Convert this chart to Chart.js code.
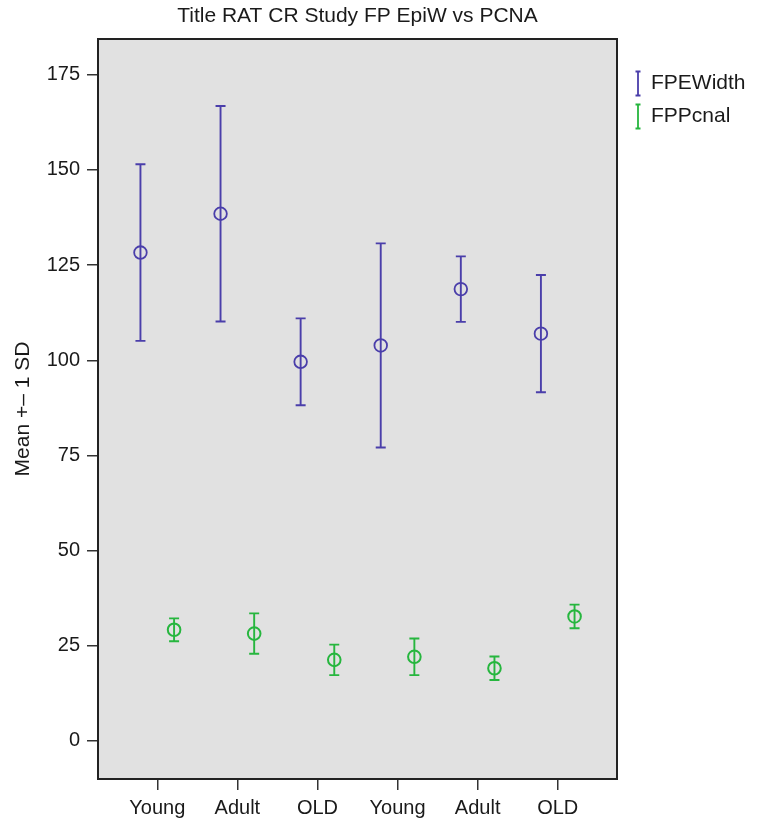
<!DOCTYPE html>
<html>
<head>
<meta charset="utf-8">
<script src="https://cdn.jsdelivr.net/npm/chart.js@4/dist/chart.umd.min.js"></script>
<style>
  html, body { margin:0; padding:0; background:#fff; }
  #wrap { width:758px; height:823px; }
</style>
</head>
<body>
<div id="wrap"><canvas id="chart" width="758" height="823"></canvas></div>
<script>
// ---- DATA ----
const categories = ["Young", "Adult", "OLD", "Young", "Adult", "OLD"];
const fpeMean  = [128.3, 138.5, 99.6, 103.9, 118.7, 107.0];
const fpeSD    = [23.2, 28.3, 11.4, 26.8, 8.6, 15.4];
const pcnaMean = [29.2, 28.2, 21.3, 22.1, 19.1, 32.7];
const pcnaSD   = [3.0, 5.3, 4.0, 4.8, 3.1, 3.1];
const yTicks   = [0, 25, 50, 75, 100, 125, 150, 175];

// ---- LOOK ----
const FONT = "'Liberation Sans', Arial, Helvetica, sans-serif";
const BLUE  = "rgb(74,62,170)";
const GREEN = "rgb(38,182,62)";
const DODGE = 0.21;

const toPoints = (means, shift) => means.map((m, i) => ({ x: i + shift, y: m }));

// plot background, frame, error bars and legend
const errorBars = {
  id: "errorBars",
  beforeDraw(chart){
    const {ctx, chartArea:a} = chart;
    ctx.save();
    ctx.fillStyle = "#e1e1e1";
    ctx.fillRect(a.left, a.top, a.right - a.left, a.bottom - a.top);
    ctx.restore();
  },
  afterDatasetsDraw(chart){
    const {ctx, scales:{x, y}} = chart;
    ctx.save();
    chart.data.datasets.forEach(ds=>{
      ctx.strokeStyle = ds.borderColor;
      ctx.lineWidth = 1.9;
      ds.data.forEach((p, i)=>{
        const px = x.getPixelForValue(p.x);
        const top = y.getPixelForValue(p.y + ds.sd[i]);
        const bot = y.getPixelForValue(p.y - ds.sd[i]);
        ctx.beginPath();
        ctx.moveTo(px, top); ctx.lineTo(px, bot);
        ctx.moveTo(px - 5, top); ctx.lineTo(px + 5, top);
        ctx.moveTo(px - 5, bot); ctx.lineTo(px + 5, bot);
        ctx.stroke();
      });
    });
    ctx.restore();
  },
  afterDraw(chart){
    const {ctx, chartArea:a} = chart;
    ctx.save();
    ctx.strokeStyle = "#222";
    ctx.lineWidth = 2;
    ctx.strokeRect(a.left, a.top, a.right - a.left, a.bottom - a.top);

    // legend
    ctx.font = "21px " + FONT;
    ctx.textBaseline = "middle";
    ctx.textAlign = "left";
    chart.data.datasets.forEach((ds, i)=>{
      const cy = 83.5 + i * 33;
      const ix = a.right + 21;
      ctx.strokeStyle = ds.borderColor;
      ctx.lineWidth = 1.8;
      ctx.beginPath();
      ctx.moveTo(ix, cy - 12); ctx.lineTo(ix, cy + 12);
      ctx.moveTo(ix - 2.5, cy - 12); ctx.lineTo(ix + 2.5, cy - 12);
      ctx.moveTo(ix - 2.5, cy + 12); ctx.lineTo(ix + 2.5, cy + 12);
      ctx.stroke();
      ctx.fillStyle = "#1a1a1a";
      ctx.fillText(ds.label, ix + 13, cy);
    });
    ctx.restore();
  }
};

new Chart(document.getElementById("chart"), {
  type: "scatter",
  data: {
    datasets: [
      { label:"FPEWidth", data: toPoints(fpeMean, -DODGE), sd: fpeSD,
        borderColor: BLUE, backgroundColor:"rgba(0,0,0,0)",
        pointRadius: 6.3, pointBorderWidth: 1.8, pointHoverRadius: 6.3 },
      { label:"FPPcnal", data: toPoints(pcnaMean, DODGE), sd: pcnaSD,
        borderColor: GREEN, backgroundColor:"rgba(0,0,0,0)",
        pointRadius: 6.3, pointBorderWidth: 2, pointHoverRadius: 6.3 }
    ]
  },
  options: {
    responsive: false,
    animation: false,
    layout: { padding: { right: 141 } },
    plugins: {
      legend: { display: false },
      tooltip: { enabled: false },
      title: {
        display: true, fullSize: false,
        text: "Title RAT CR Study FP EpiW vs PCNA",
        color: "#1a1a1a",
        font: { family: FONT, size: 21, weight: "normal" },
        padding: { top: 4, bottom: 9.8 }
      }
    },
    scales: {
      x: {
        type: "linear", min: -0.74, max: 5.74,
        afterBuildTicks: s => { s.ticks = categories.map((_, i)=>({ value: i })); },
        afterFit: s => { s.height = 44; },
        border: { display: false },
        grid: { drawOnChartArea: false, drawTicks: true, tickLength: 11, color: "#333", lineWidth: 1.5 },
        ticks: {
          callback: v => categories[Math.round(v)],
          color: "#1a1a1a", padding: 6, maxRotation: 0, autoSkip: false,
          font: { family: FONT, size: 20 }
        }
      },
      y: {
        min: -10, max: 184.4,
        afterBuildTicks: s => { s.ticks = yTicks.map(v=>({ value: v })); },
        afterFit: s => { s.width = 98; },
        border: { display: false },
        grid: { drawOnChartArea: false, drawTicks: true, tickLength: 11, color: "#333", lineWidth: 1.5 },
        ticks: {
          color: "#1a1a1a", padding: 7,
          font: { family: FONT, size: 20 }
        },
        title: {
          display: true, text: "Mean +\u2013 1 SD", color: "#1a1a1a",
          font: { family: FONT, size: 21 },
          padding: { top: 11, bottom: 0 }
        }
      }
    }
  },
  plugins: [errorBars]
});
</script>
</body>
</html>
